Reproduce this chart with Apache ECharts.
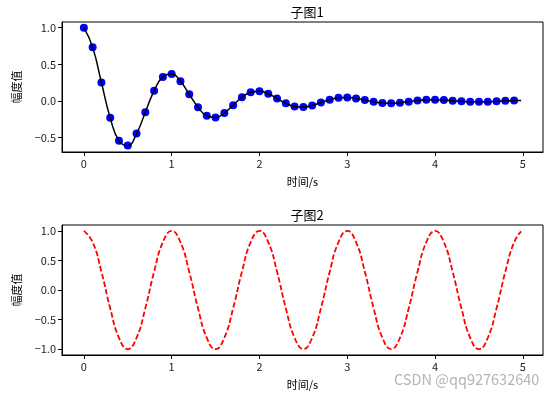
<!DOCTYPE html>
<html><head><meta charset="utf-8">
<script src="https://cdn.jsdelivr.net/npm/echarts@6/dist/echarts.min.js"></script>
<style>html,body{margin:0;padding:0;background:#fff}#c{width:554px;height:398px}</style>
</head><body><div id="c"></div>
<script>
// time samples for subplot 1 dots (s)
var t1 = [0,0.1,0.2,0.3,0.4,0.5,0.6,0.7,0.8,0.9,1.0,1.1,1.2,1.3,1.4,1.5,1.6,1.7,1.8,1.9,2.0,2.1,2.2,2.3,2.4,2.5,2.6,2.7,2.8,2.9,3.0,3.1,3.2,3.3,3.4,3.5,3.6,3.7,3.8,3.9,4.0,4.1,4.2,4.3,4.4,4.5,4.6,4.7,4.8,4.9];
// amplitude values (blue dots)
var y1 = [1.0,0.732,0.253,-0.229,-0.542,-0.607,-0.444,-0.153,0.139,0.329,0.368,0.269,0.093,-0.084,-0.200,-0.223,-0.163,-0.056,0.051,0.121,0.135,0.099,0.034,-0.031,-0.073,-0.082,-0.060,-0.021,0.019,0.045,0.050,0.036,0.013,-0.011,-0.027,-0.030,-0.022,-0.008,0.007,0.016,0.018,0.013,0.005,-0.004,-0.010,-0.011,-0.008,-0.003,0.003,0.006];
// black curve samples (s) and values
var tLine1 = [0,0.1,0.2,0.3,0.4,0.5,0.6,0.7,0.8,0.9,1.0,1.1,1.2,1.3,1.4,1.5,1.6,1.7,1.8,1.9,2.0,2.1,2.2,2.3,2.4,2.5,2.6,2.7,2.8,2.9,3.0,3.1,3.2,3.3,3.4,3.5,3.6,3.7,3.8,3.9,4.0,4.1,4.2,4.3,4.4,4.5,4.6,4.7,4.8,4.9,4.98];
var yLine1 = [1.0,0.732,0.253,-0.229,-0.542,-0.607,-0.444,-0.153,0.139,0.329,0.368,0.269,0.093,-0.084,-0.200,-0.223,-0.163,-0.056,0.051,0.121,0.135,0.099,0.034,-0.031,-0.073,-0.082,-0.060,-0.021,0.019,0.045,0.050,0.036,0.013,-0.011,-0.027,-0.030,-0.022,-0.008,0.007,0.016,0.018,0.013,0.005,-0.004,-0.010,-0.011,-0.008,-0.003,0.003,0.006,0.007];
// subplot 2 samples
var t2 = [0,0.1,0.2,0.3,0.4,0.5,0.6,0.7,0.8,0.9,1.0,1.1,1.2,1.3,1.4,1.5,1.6,1.7,1.8,1.9,2.0,2.1,2.2,2.3,2.4,2.5,2.6,2.7,2.8,2.9,3.0,3.1,3.2,3.3,3.4,3.5,3.6,3.7,3.8,3.9,4.0,4.1,4.2,4.3,4.4,4.5,4.6,4.7,4.8,4.9,4.98];
var y2 = [1.0,0.809,0.309,-0.309,-0.809,-1.0,-0.809,-0.309,0.309,0.809,1.0,0.809,0.309,-0.309,-0.809,-1.0,-0.809,-0.309,0.309,0.809,1.0,0.809,0.309,-0.309,-0.809,-1.0,-0.809,-0.309,0.309,0.809,1.0,0.809,0.309,-0.309,-0.809,-1.0,-0.809,-0.309,0.309,0.809,1.0,0.809,0.309,-0.309,-0.809,-1.0,-0.809,-0.309,0.309,0.809,0.992];
var xTicks = [0,1,2,3,4,5];
var yTicks1 = [-0.5,0,0.5,1.0];
var yTicks2 = [-1.0,-0.5,0,0.5,1.0];

function pairs(a,b){return a.map(function(v,i){return [v,b[i]];});}
var FONT = '"Noto Sans CJK SC", "DejaVu Sans", sans-serif';
function fmtY(v){return (v<0?'\u2212':'')+Math.abs(v).toFixed(1);}
function xAx(idx){
  return {gridIndex:idx,type:'value',min:-0.249,max:5.229,
    name:'时间/s',nameLocation:'middle',nameGap:24,
    nameTextStyle:{color:'#000',fontSize:11,fontFamily:FONT},
    axisLine:{show:true,onZero:false,lineStyle:{color:'#000',width:1}},
    axisTick:{show:true,length:4,customValues:xTicks,lineStyle:{color:'#000'}},
    axisLabel:{customValues:xTicks,color:'#222',fontSize:11,fontFamily:FONT,margin:6},
    splitLine:{show:false}};
}
function yAx(idx,mn,mx,ticks){
  return {gridIndex:idx,type:'value',min:mn,max:mx,
    name:'幅度值',nameLocation:'middle',nameGap:40,nameRotate:90,
    nameTextStyle:{color:'#000',fontSize:11,fontFamily:FONT},
    axisLine:{show:true,onZero:false,lineStyle:{color:'#000',width:1}},
    axisTick:{show:true,length:4,customValues:ticks,lineStyle:{color:'#000'}},
    axisLabel:{customValues:ticks,color:'#222',fontSize:11,fontFamily:FONT,margin:6,formatter:fmtY},
    splitLine:{show:false}};
}
var chart = echarts.init(document.getElementById('c'),null,{renderer:'canvas'});
chart.setOption({
  animation:false,
  backgroundColor:'#fff',
  title:[
    {text:'子图1',left:302,top:1,textAlign:'center',textStyle:{fontSize:13,fontWeight:'normal',color:'#000',fontFamily:FONT}},
    {text:'子图2',left:302,top:204,textAlign:'center',textStyle:{fontSize:13,fontWeight:'normal',color:'#000',fontFamily:FONT}}
  ],
  grid:[
    {left:62,top:22,width:481,height:130,show:true,borderColor:'#000',borderWidth:1,backgroundColor:'transparent'},
    {left:62,top:225,width:481,height:130,show:true,borderColor:'#000',borderWidth:1,backgroundColor:'transparent'}
  ],
  xAxis:[xAx(0),xAx(1)],
  yAxis:[yAx(0,-0.695,1.078,yTicks1),yAx(1,-1.1,1.1,yTicks2)],
  series:[
    {type:'scatter',xAxisIndex:0,yAxisIndex:0,data:pairs(t1,y1),symbolSize:8,itemStyle:{color:'#0000ff',opacity:1,borderWidth:0},z:2},
    {type:'line',xAxisIndex:0,yAxisIndex:0,data:pairs(tLine1,yLine1),smooth:0.5,showSymbol:false,lineStyle:{color:'#000',width:1.5},z:3},
    {type:'line',xAxisIndex:1,yAxisIndex:1,data:pairs(t2,y2),smooth:0.5,showSymbol:false,lineStyle:{color:'#ff0000',width:1.8,type:[5.5,2.4]},z:3}
  ],
  graphic:[{type:'text',left:394,top:372,style:{text:'CSDN @qq927632640',fill:'#b4b4b4',font:'14.5px '+FONT},z:10}]
});
</script></body></html>
